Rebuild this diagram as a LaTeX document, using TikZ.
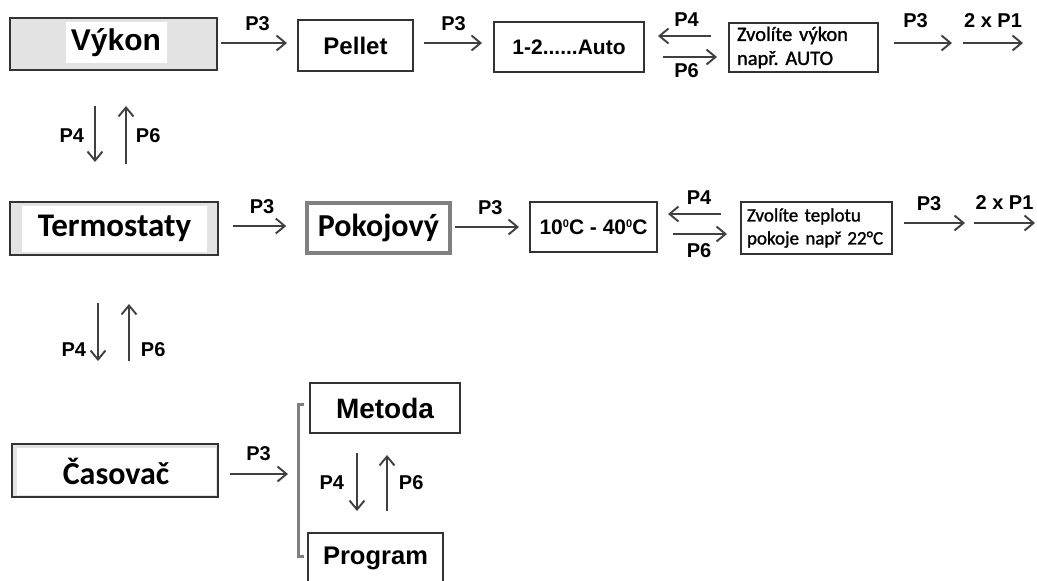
\documentclass[tikz,border=0pt]{standalone}
\usepackage{fontspec}
\setmainfont{Liberation Sans}
\newfontfamily\calibri{Carlito}
\newfontfamily\calibripolo{Carlito}[FakeBold=1.2]
\usetikzlibrary{arrows.meta}
\frenchspacing

\definecolor{ramec}{HTML}{333333}
\definecolor{sipka}{HTML}{404040}
\definecolor{seda}{HTML}{E3E3E3}
\definecolor{sedyramec}{HTML}{808080}

\newcommand{\stupen}{\raisebox{7pt}{\fontsize{11}{11}\selectfont 0}}

\tikzset{
  box/.style={draw=ramec, line width=2pt, fill=white, inner sep=0pt},
  vnitrek/.style={fill=white, inner sep=0pt},
  arr/.style={draw=sipka, line width=1.9pt, -{Straight Barb[length=9pt,width=15pt]}},
  lbl/.style={inner sep=0pt, font=\bfseries\fontsize{20}{22}\selectfont},
  velky/.style={font=\bfseries\fontsize{#1}{#1}\selectfont},
  popis/.style={font=\calibripolo\fontsize{20.5}{24}\selectfont, align=left, inner ysep=0pt},
}

\begin{document}
\begin{tikzpicture}[x=1pt, y=-1pt]
    \useasboundingbox (0,0) rectangle (1037,581);

    % Vykon - prvni radek
    \node[box, fill=seda, minimum width=207pt, minimum height=52pt] (vykon) at (113.5,44) {};
    \node[vnitrek, minimum width=101pt, minimum height=41pt, velky=30] (vykontxt) at (116,42.5) {Výkon};
    \node[box, minimum width=115pt, minimum height=51pt, velky=24] (pellet) at (355.5,45.5) {Pellet};
    \node[box, minimum width=150pt, minimum height=50pt, velky=21] (auto) at (569,47) {1-2......Auto};
    \node[box, popis, text width=133pt, inner xsep=8pt, minimum height=49pt] (zvolA) at (803.5,47.5) {Zvolíte výkon\\např. AUTO};
    \coordinate (outA1) at (952,43);
    \coordinate (outA2) at (963,43);
    \coordinate (outA3) at (1023,43);

    \draw[arr, shorten <=3pt, shorten >=10pt] (vykon.east |- 0,43) -- (pellet.west |- 0,43)
        node[lbl, midway, above=11pt] {P3};
    \draw[arr, shorten <=10pt, shorten >=11pt] (pellet.east |- 0,43) -- (auto.west |- 0,43)
        node[lbl, midway, above=11pt] {P3};
    \draw[arr, shorten <=17pt, shorten >=13pt] (zvolA.west |- 0,36) -- (auto.east |- 0,36)
        node[lbl, midway, above=9pt] {P4};
    \draw[arr, shorten <=18pt, shorten >=11pt] (auto.east |- 0,57) -- (zvolA.west |- 0,57)
        node[lbl, midway, below=6pt] {P6};
    \draw[arr, shorten <=15pt] (zvolA.east |- 0,43) -- (outA1)
        node[lbl, midway, above=14pt] {P3};
    \draw[arr] (outA2) -- (outA3)
        node[lbl, midway, above=15pt] {2 x P1};

    % Termostaty - druhy radek
    \node[box, fill=seda, minimum width=208pt, minimum height=53pt] (termo) at (114,228.5) {};
    \node[vnitrek, minimum width=185pt, minimum height=46pt, font=\calibri\bfseries\fontsize{33}{33}\selectfont] (termotxt) at (114.5,228.5) {Termostaty};
    \node[box, draw=sedyramec, line width=3.5pt, minimum width=143pt, minimum height=50pt, font=\calibri\bfseries\fontsize{32}{32}\selectfont] (pokoj) at (378.5,228) {Pokojový};
    \node[box, minimum width=127pt, minimum height=50pt, velky=21] (teplota) at (593.5,227) {10\stupen C - 40\stupen C};
    \node[box, popis, text width=139pt, inner xsep=6pt, minimum height=52pt, font=\calibripolo\fontsize{19}{23}\selectfont] (zvolB) at (816.5,228) {Zvolíte teplotu\\pokoje např 22°C};
    \coordinate (outB1) at (965,223);
    \coordinate (outB2) at (974,223);
    \coordinate (outB3) at (1035,223);

    \draw[arr, shorten <=14pt, shorten >=19pt] (termo.east |- 0,226) -- (pokoj.west |- 0,226)
        node[lbl, midway, above=11pt] {P3};
    \draw[arr, shorten <=3pt, shorten >=10pt] (pokoj.east |- 0,227) -- (teplota.west |- 0,227)
        node[lbl, midway, above=11pt] {P3};
    \draw[arr, shorten <=19pt, shorten >=10pt] (zvolB.west |- 0,214) -- (teplota.east |- 0,214)
        node[lbl, midway, above=9pt] {P4};
    \draw[arr, shorten <=15pt, shorten >=13pt] (teplota.east |- 0,234) -- (zvolB.west |- 0,234)
        node[lbl, midway, below=9pt] {P6};
    \draw[arr, shorten <=11pt] (zvolB.east |- 0,223) -- (outB1)
        node[lbl, midway, above=11pt] {P3};
    \draw[arr] (outB2) -- (outB3)
        node[lbl, midway, above=13pt] {2 x P1};

    % Vykon <-> Termostaty
    \draw[arr, shorten <=35pt, shorten >=39pt] (vykon.south -| 95,0) -- (termo.north -| 95,0)
        node[lbl, midway, left=10pt] {P4};
    \draw[arr, shorten <=37pt, shorten >=35pt] (termo.north -| 126,0) -- (vykon.south -| 126,0)
        node[lbl, midway, right=9pt] {P6};

    % Casovac - treti radek
    \node[box, fill=seda, minimum width=206pt, minimum height=53pt] (casovac) at (115,470.5) {};
    \node[vnitrek, minimum width=199pt, minimum height=47pt, font=\calibri\bfseries\fontsize{32}{32}\selectfont] (casovactxt) at (116,471.5) {Časovač};
    \node[box, minimum width=150pt, minimum height=50pt, velky=28] (metoda) at (385,408) {Metoda};
    \node[box, minimum width=135pt, minimum height=50pt, velky=25.5] (program) at (375.5,558) {Program};
    \coordinate (zavorka) at (298,474);
    \draw[draw=sedyramec, line width=3pt] (304,404) -- (298,404) -- (298,556) -- (304,556);

    \draw[arr, shorten <=11pt, shorten >=10pt] (casovac.east |- 0,474) -- (zavorka)
        node[lbl, midway, above=12pt] {P3};

    % Termostaty <-> Casovac
    \draw[arr, shorten <=47pt, shorten >=82pt] (termo.south -| 98,0) -- (casovac.north -| 98,0)
        node[lbl, midway, left=11pt] {P4};
    \draw[arr, shorten <=82pt, shorten >=48pt] (casovac.north -| 129,0) -- (termo.south -| 129,0)
        node[lbl, midway, right=11pt] {P6};

    % Metoda <-> Program
    \draw[arr, shorten <=19pt, shorten >=21pt] (metoda.south -| 357,0) -- (program.north -| 357,0)
        node[lbl, midway, left=12pt] {P4};
    \draw[arr, shorten <=21pt, shorten >=21pt] (program.north -| 387,0) -- (metoda.south -| 387,0)
        node[lbl, midway, right=11pt] {P6};
\end{tikzpicture}
\end{document}
